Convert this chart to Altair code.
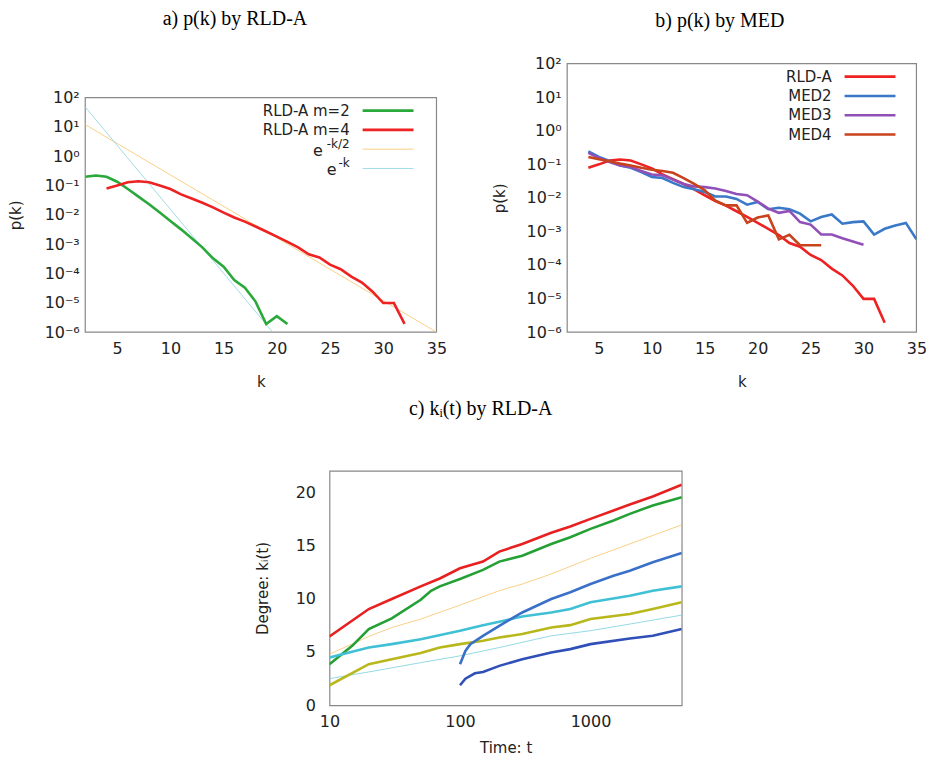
import altair as alt
import pandas as pd

# ---------------- data: panel a ----------------
k_m2 = list(range(2, 22))
p_m2 = [0.20, 0.22, 0.20, 0.135, 0.076, 0.042, 0.023, 0.012, 6.2e-3, 3.2e-3,
        1.6e-3, 7.8e-4, 3.3e-4, 1.7e-4, 6.0e-5, 3.3e-5, 1.1e-5, 1.9e-6, 3.5e-6, 1.9e-6]
k_m4 = list(range(4, 33))
p_m4 = [0.079, 0.10, 0.13, 0.14, 0.13, 0.10, 0.076, 0.050, 0.036, 0.026,
        0.018, 0.012, 8.1e-3, 5.9e-3, 4.0e-3, 2.7e-3, 1.8e-3, 1.2e-3, 7.8e-4, 4.5e-4,
        3.5e-4, 2.0e-4, 1.4e-4, 7.8e-5, 4.9e-5, 2.4e-5, 9.8e-6, 9.8e-6, 1.9e-6]
k_half = [2, 35]
p_half = [12, 1e-6]
k_one = [2, 19.6]
p_one = [48, 1e-6]

# ---------------- data: panel b ----------------
k_med2 = list(range(4, 36))
p_med2 = [0.245, 0.166, 0.126, 0.093, 0.079, 0.059, 0.042, 0.039, 0.028, 0.021,
          0.018, 0.015, 0.011, 0.011, 9.3e-3, 6.3e-3, 7.6e-3, 4.6e-3, 5.1e-3, 4.6e-3,
          3.4e-3, 2.0e-3, 2.7e-3, 3.2e-3, 1.7e-3, 1.9e-3, 2.0e-3, 8.1e-4, 1.2e-3, 1.5e-3,
          1.8e-3, 5.8e-4]
k_med3 = list(range(4, 31))
p_med3 = [0.219, 0.155, 0.117, 0.093, 0.083, 0.063, 0.050, 0.047, 0.035, 0.026,
          0.022, 0.021, 0.019, 0.016, 0.013, 0.012, 7.8e-3, 4.8e-3, 3.6e-3, 4.1e-3,
          1.9e-3, 1.6e-3, 8.1e-4, 8.1e-4, 6.3e-4, 5.0e-4, 4.0e-4]
k_med4 = list(range(4, 27))
p_med4 = [0.166, 0.141, 0.123, 0.105, 0.093, 0.079, 0.069, 0.063, 0.056, 0.039,
          0.026, 0.017, 8.3e-3, 6.0e-3, 6.0e-3, 1.8e-3, 2.6e-3, 3.0e-3, 5.8e-4, 7.9e-4,
          3.9e-4, 3.9e-4, 3.9e-4]

# ---------------- data: panel c ----------------
t_red = [10, 20, 30, 50, 70, 100, 150, 200, 300, 500, 700, 1000, 1500, 2000, 3000, 5000]
d_red = [6.46, 9.03, 9.97, 11.16, 11.9, 12.85, 13.48, 14.42, 15.14, 16.18, 16.77, 17.49, 18.28, 18.84, 19.59, 20.69]
t_green = [10, 15, 20, 30, 50, 60, 70, 100, 150, 200, 300, 500, 700, 1000, 1500, 2000, 3000, 5000]
d_green = [3.86, 5.6, 7.15, 8.15, 9.9, 10.75, 11.16, 11.85, 12.7, 13.48, 14.04, 15.14, 15.77, 16.55, 17.34, 17.96, 18.75, 19.53]
t_orange = [10, 20, 30, 50, 100, 200, 300, 500, 1000, 2000, 5000]
d_orange = [4.8, 6.46, 7.3, 8.09, 9.4, 10.75, 11.38, 12.32, 13.79, 15.14, 16.93]
t_cyan = [10, 20, 30, 50, 100, 150, 200, 300, 500, 700, 1000, 2000, 3000, 5000]
d_cyan = [4.48, 5.42, 5.74, 6.2, 7.0, 7.52, 7.84, 8.34, 8.71, 9.03, 9.66, 10.28, 10.75, 11.16]
t_olive = [10, 20, 30, 50, 70, 100, 150, 200, 300, 500, 700, 1000, 2000, 3000, 5000]
d_olive = [1.88, 3.86, 4.33, 4.9, 5.42, 5.74, 6.05, 6.36, 6.68, 7.3, 7.52, 8.09, 8.56, 9.03, 9.66]
t_lcyan = [10, 20, 50, 100, 200, 500, 1000, 2000, 5000]
d_lcyan = [2.5, 3.13, 4.0, 4.64, 5.42, 6.52, 7.0, 7.62, 8.46]
t_blue1 = [100, 110, 120, 150, 200, 250, 300, 500, 700, 1000, 1500, 2000, 3000, 5000]
d_blue1 = [3.86, 5.1, 5.74, 6.52, 7.46, 8.15, 8.71, 9.97, 10.6, 11.38, 12.16, 12.63, 13.42, 14.29]
t_blue2 = [100, 110, 130, 150, 200, 300, 500, 700, 1000, 2000, 3000, 5000]
d_blue2 = [1.88, 2.5, 3.0, 3.13, 3.7, 4.33, 4.95, 5.27, 5.74, 6.27, 6.52, 7.15]

# ---------------- names / ticks ----------------
series_a = ["RLD-A m=2", "RLD-A m=4", "e^{-k/2}", "e^{-k}"]
labels_a = ["RLD-A m=2", "RLD-A m=4", "e", "e"]
sups_a = ["", "", "-k/2", "-k"]
colors_a = ["#2aa83a", "#ee2222", "#f8cc78", "#98d8e4"]
widths_a = [2.6, 2.6, 0.9, 0.9]

series_b = ["RLD-A", "MED2", "MED3", "MED4"]
colors_b = ["#ee2222", "#3a78c8", "#9050b8", "#c8421c"]
widths_b = [2.6, 2.6, 2.6, 2.6]

series_c = ["red", "green", "orange", "cyan", "olive", "lcyan", "blue1", "blue2"]
colors_c = ["#e82020", "#24a034", "#f8cc78", "#40c0d4", "#b8b81c", "#88d4e0", "#3a70c8", "#3050b8"]
widths_c = [2.6, 2.6, 0.9, 2.6, 2.6, 0.9, 2.6, 2.6]

ytick_vals = [1e-6, 1e-5, 1e-4, 1e-3, 1e-2, 1e-1, 1e0, 1e1, 1e2]
ktick_vals = [5, 10, 15, 20, 25, 30, 35]
ttick_vals = [10, 100, 1000]
dtick_vals = [0, 5, 10, 15, 20]

SUP = "['⁻⁶','⁻⁵','⁻⁴','⁻³','⁻²','⁻¹','⁰','¹','²']"
sup_expr = "'10' + " + SUP + "[round(log(datum.value)/LN10)+6]"


def long(pairs, widths):
    rows = []
    for (name, xs, ys), w in zip(pairs, widths):
        for i, (x, y) in enumerate(zip(xs, ys)):
            rows.append({"series": name, "x": x, "y": y, "i": i, "thin": w < 2})
    return pd.DataFrame(rows)


df_a = long([(series_a[0], k_m2, p_m2), (series_a[1], k_m4, p_m4),
             (series_a[2], k_half, p_half), (series_a[3], k_one, p_one)], widths_a)
df_b = long([(series_b[0], k_m4, p_m4), (series_b[1], k_med2, p_med2),
             (series_b[2], k_med3, p_med3), (series_b[3], k_med4, p_med4)], widths_b)
df_c = long([(series_c[0], t_red, d_red), (series_c[1], t_green, d_green),
             (series_c[2], t_orange, d_orange), (series_c[3], t_cyan, d_cyan),
             (series_c[4], t_olive, d_olive), (series_c[5], t_lcyan, d_lcyan),
             (series_c[6], t_blue1, d_blue1), (series_c[7], t_blue2, d_blue2)], widths_c)

leg_a = pd.DataFrame({"series": series_a, "label": labels_a, "sup": sups_a})
leg_b = pd.DataFrame({"series": series_b, "label": series_b, "sup": [""] * 4})

FONT = "DejaVu Sans"
SERIF = "Liberation Serif"
FRAME = "#888888"
H_OUT = 269       # view height shared by panels a / b


def pk_panel(df, leg, names, colors, widths, title, width, top, tdx, toff, ytp):
    """top: pixel offset of the plot frame inside the shared-height view."""
    col = alt.Color("series:N", scale=alt.Scale(domain=names, range=colors), legend=None)
    sw = alt.StrokeWidth("series:N", scale=alt.Scale(type="ordinal", domain=names, range=widths),
                         legend=None)
    xenc = alt.X("x:Q", scale=alt.Scale(domain=[2, 35], nice=False),
                 axis=alt.Axis(values=ktick_vals, title="k", titlePadding=19,
                               labelPadding=8, labelFlush=False))
    yenc = alt.Y("y:Q", scale=alt.Scale(type="log", domain=[1e-6, 1e2], nice=False,
                                        range=[H_OUT, top]),
                 axis=alt.Axis(values=ytick_vals, labelExpr=sup_expr, title="p(k)",
                               titlePadding=ytp, labelPadding=6))
    base_line = alt.Chart(df).mark_line(clip=True).encode(
        x=xenc, y=yenc, color=col, strokeWidth=sw, order="i:Q", detail="series:N")
    lines = alt.layer(base_line.transform_filter("datum.thin"),
                      base_line.transform_filter("!datum.thin"))
    ly = alt.Y("series:N", scale=alt.Scale(type="point", domain=names,
                                           range=[top + 13, top + 71], padding=0), axis=None)
    frame = alt.Chart(pd.DataFrame({"f": [0]})).mark_rect(
        fillOpacity=0, stroke=FRAME, strokeWidth=1.2).encode(
        x=alt.value(0), x2=alt.value(width), y=alt.value(top), y2=alt.value(H_OUT))
    rules = alt.Chart(leg).mark_rule().encode(
        x=alt.value(278), x2=alt.value(329), y=ly, color=col, strokeWidth=sw)
    texts = alt.Chart(leg).transform_filter("datum.sup == ''").mark_text(
        align="right", baseline="middle", font=FONT, fontSize=15, color="#222").encode(
        x=alt.value(265), y=ly, text="label:N")
    legend_layers = [rules, texts]
    sup_rows = leg[leg["sup"] != ""]
    for _, r in sup_rows.iterrows():
        shift = -27 if len(r["sup"]) > 2 else -13
        base = alt.Chart(leg).transform_filter(alt.datum.series == r["series"]).mark_text(
            align="right", baseline="middle", font=FONT, fontSize=16, color="#222", dx=shift, dy=2).encode(
            x=alt.value(265), y=ly, text="label:N")
        sup = alt.Chart(leg).transform_filter(alt.datum.series == r["series"]).mark_text(
            align="right", baseline="middle", font=FONT, fontSize=12, color="#222", dy=-5).encode(
            x=alt.value(265), y=ly, text="sup:N")
        legend_layers += [base, sup]
    legend = alt.layer(*legend_layers)
    return alt.layer(frame, lines, legend).resolve_scale(y="independent").properties(
        width=width, height=H_OUT, view=alt.ViewBackground(stroke=None),
        title=alt.TitleParams(title, font=SERIF, fontSize=20, fontWeight="normal",
                              color="black", frame="group", anchor="middle",
                              dx=tdx, offset=toff))


panel_a = pk_panel(df_a, leg_a, series_a, colors_a, widths_a,
                   "a) p(k) by RLD-A", 352, 34, -26, 35, 21)
panel_b = pk_panel(df_b, leg_b, series_b, colors_b, widths_b,
                   "b) p(k) by MED", 350, 0, -22, 25, 19)

c_col = alt.Color("series:N", scale=alt.Scale(domain=series_c, range=colors_c), legend=None)
c_sw = alt.StrokeWidth("series:N", scale=alt.Scale(type="ordinal", domain=series_c, range=widths_c),
                       legend=None)
c_base = alt.Chart(df_c).mark_line(clip=True).encode(
    x=alt.X("x:Q", scale=alt.Scale(type="log", domain=[10, 5000], nice=False),
            axis=alt.Axis(values=ttick_vals, format="d", title="Time: t", titlePadding=11,
                          labelPadding=8, labelFlush=False)),
    y=alt.Y("y:Q", scale=alt.Scale(domain=[0, 22], nice=False),
            axis=alt.Axis(values=dtick_vals, title="Degree: kᵢ(t)", titlePadding=25,
                          labelPadding=14)),
    color=c_col, strokeWidth=c_sw, order="i:Q", detail="series:N")
panel_c = alt.layer(
    c_base.transform_filter("datum.thin"),
    c_base.transform_filter("!datum.thin"),
).properties(
    width=353, height=235,
    view=alt.ViewBackground(stroke=FRAME, strokeWidth=1.2),
    title=alt.TitleParams("c) kᵢ(t) by RLD-A", font=SERIF, fontSize=20, fontWeight="normal",
                          color="black", frame="group", anchor="middle", dx=-25, offset=52))

top_row = alt.hconcat(panel_a, panel_b, spacing=44).resolve_scale(
    color="independent", strokeWidth="independent")
chart = alt.vconcat(top_row, panel_c, spacing=8, center=True).resolve_scale(
    color="independent", strokeWidth="independent").properties(
    padding={"left": 0, "top": 0, "right": 0, "bottom": 0}
).configure_axis(
    labelFont=FONT, labelFontSize=16, labelColor="#222222",
    titleFont=FONT, titleFontSize=15, titleFontWeight="normal", titleColor="#222222",
    ticks=False, domain=False, grid=False)

chart.save("out.html", embed_options={"renderer": "svg", "actions": False})
